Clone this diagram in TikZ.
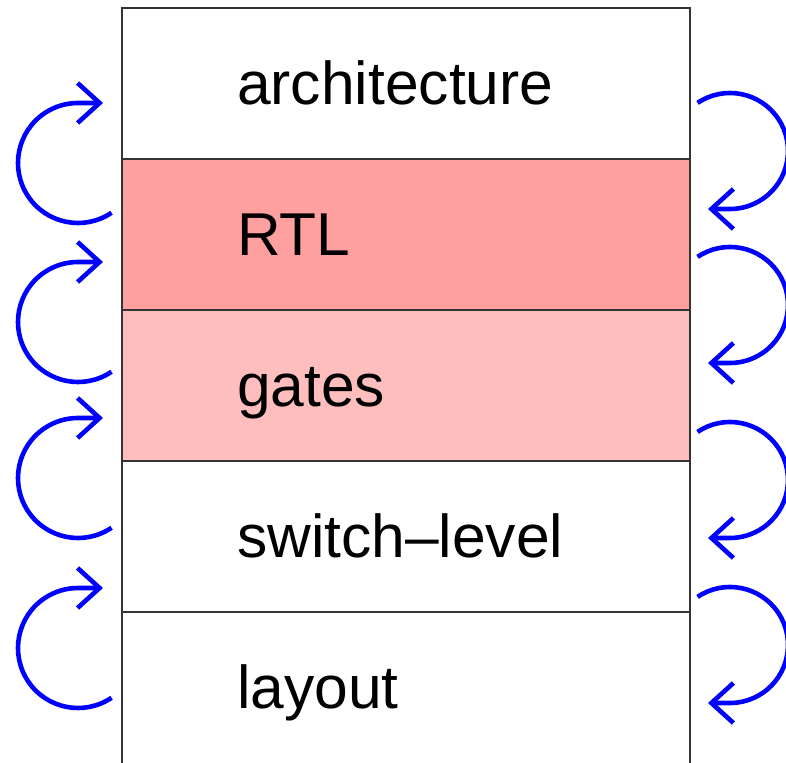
\documentclass[tikz,border=0pt]{standalone}
\usepackage{fontspec}
\setmainfont{Liberation Sans}
\usetikzlibrary{arrows.meta}
\definecolor{rtlred}{RGB}{255,160,160}
\definecolor{gatered}{RGB}{255,190,190}
\tikzset{
  layerbox/.style={draw=black!80,line width=1.3pt},
  layertext/.style={anchor=base west,inner sep=0pt,font=\fontsize{60.5}{72}\selectfont},
  cycarrow/.style={blue,line width=4.6pt,-{Straight Barb[length=22pt,width=40pt,line join=miter]}}
}
\begin{document}
\begin{tikzpicture}[x=1pt,y=1pt]
        \useasboundingbox (0,0) rectangle (786,762);

        \coordinate (T) at (122,754);
        \coordinate (A) at (690,603);
        \coordinate (B) at (690,452);
        \coordinate (C) at (690,301);
        \coordinate (D) at (690,150);
        \coordinate (E) at (690,-4);

        \fill[rtlred] (122,603) rectangle (B);
        \fill[gatered] (122,452) rectangle (C);

        \draw[layerbox] (T) rectangle (A);
        \draw[layerbox] (122,603) rectangle (B);
        \draw[layerbox] (122,452) rectangle (C);
        \draw[layerbox] (122,301) rectangle (D);
        \draw[layerbox] (122,150) rectangle (E);

        \node[layertext] (arch) at (237,657) {architecture};
        \node[layertext] (rtl) at (237,506) {RTL};
        \node[layertext] (gates) at (237,355) {gates};
        \node[layertext] (switch) at (237,204) {switch--level};
        \node[layertext] (layout) at (237,53) {layout};

        %loops on the left, going up
        \coordinate (L1) at (78,599);
        \coordinate (L2) at (78,440);
        \coordinate (L3) at (78,284);
        \coordinate (L4) at (78,114);

        \draw[cycarrow] ([shift={(-56:60)}]L1) arc[start angle=-56,end angle=-270,radius=60] -- ++(25,0);
        \draw[cycarrow] ([shift={(-56:60)}]L2) arc[start angle=-56,end angle=-270,radius=60] -- ++(25,0);
        \draw[cycarrow] ([shift={(-56:60)}]L3) arc[start angle=-56,end angle=-270,radius=60] -- ++(25,0);
        \draw[cycarrow] ([shift={(-56:60)}]L4) arc[start angle=-56,end angle=-270,radius=60] -- ++(25,0);

        %and the ones on the right, going down
        \coordinate (R1) at (730,611);
        \coordinate (R2) at (730,457);
        \coordinate (R3) at (730,282);
        \coordinate (R4) at (730,117);

        \draw[cycarrow] ([shift={(124:58)}]R1) arc[start angle=124,end angle=-90,radius=58] -- ++(-22,0);
        \draw[cycarrow] ([shift={(124:58)}]R2) arc[start angle=124,end angle=-90,radius=58] -- ++(-22,0);
        \draw[cycarrow] ([shift={(124:58)}]R3) arc[start angle=124,end angle=-90,radius=58] -- ++(-22,0);
        \draw[cycarrow] ([shift={(124:58)}]R4) arc[start angle=124,end angle=-90,radius=58] -- ++(-22,0);
\end{tikzpicture}
\end{document}
